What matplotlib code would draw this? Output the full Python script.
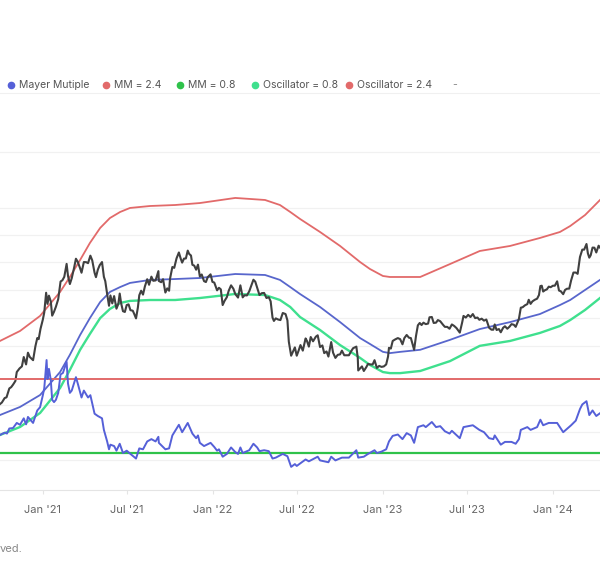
import matplotlib
matplotlib.use("Agg")
import matplotlib.pyplot as plt
from matplotlib.lines import Line2D
import matplotlib.ticker as mticker
import pandas as pd

# ---------------- data ----------------
price_dates = ["2020-10-01","2020-10-05","2020-10-11","2020-10-15","2020-10-21","2020-10-25","2020-10-29","2020-11-03","2020-11-06","2020-11-12","2020-11-17","2020-11-21","2020-11-26","2020-11-30","2020-12-04","2020-12-11","2020-12-16","2020-12-20","2020-12-23","2020-12-27",
"2021-01-01","2021-01-04","2021-01-08","2021-01-11","2021-01-14","2021-01-18","2021-01-21","2021-01-25","2021-01-29","2021-02-03","2021-02-08","2021-02-12","2021-02-16","2021-02-21","2021-02-24","2021-02-28","2021-03-04","2021-03-09","2021-03-13","2021-03-17","2021-03-22","2021-03-25","2021-03-30","2021-04-04","2021-04-08","2021-04-13","2021-04-17","2021-04-22","2021-04-25","2021-04-29","2021-05-03","2021-05-08","2021-05-12","2021-05-15","2021-05-19","2021-05-23","2021-05-26","2021-05-30","2021-06-03","2021-06-08","2021-06-12","2021-06-15","2021-06-18","2021-06-22","2021-06-26","2021-06-30","2021-07-04","2021-07-08","2021-07-13","2021-07-16","2021-07-20","2021-07-24","2021-07-27","2021-07-31","2021-08-04","2021-08-08","2021-08-13","2021-08-17","2021-08-22","2021-08-26","2021-08-31","2021-09-06","2021-09-07","2021-09-12","2021-09-16","2021-09-21","2021-09-25","2021-09-29","2021-10-01","2021-10-06","2021-10-10","2021-10-15","2021-10-20","2021-10-24","2021-10-27","2021-10-31","2021-11-04","2021-11-08","2021-11-11","2021-11-15","2021-11-18","2021-11-22","2021-11-26","2021-11-30","2021-12-04","2021-12-08","2021-12-13","2021-12-17","2021-12-21","2021-12-27","2021-12-31",
"2022-01-04","2022-01-10","2022-01-14","2022-01-18","2022-01-22","2022-01-26","2022-01-31","2022-02-04","2022-02-09","2022-02-14","2022-02-18","2022-02-24","2022-03-01","2022-03-06","2022-03-10","2022-03-15","2022-03-20","2022-03-24","2022-03-29","2022-04-02","2022-04-06","2022-04-11","2022-04-16","2022-04-21","2022-04-26","2022-05-01","2022-05-05","2022-05-09","2022-05-12","2022-05-16","2022-05-21","2022-05-26","2022-05-31","2022-06-06","2022-06-10","2022-06-13","2022-06-18","2022-06-22","2022-06-26","2022-06-30","2022-07-04","2022-07-08","2022-07-13","2022-07-19","2022-07-22","2022-07-26","2022-07-30","2022-08-04","2022-08-10","2022-08-14","2022-08-19","2022-08-24","2022-08-28","2022-09-02","2022-09-06","2022-09-12","2022-09-16","2022-09-21","2022-09-26","2022-10-01","2022-10-05","2022-10-10","2022-10-15","2022-10-20","2022-10-25","2022-10-29","2022-11-05","2022-11-08","2022-11-09","2022-11-13","2022-11-17","2022-11-21","2022-11-26","2022-11-30","2022-12-05","2022-12-10","2022-12-14","2022-12-19","2022-12-24","2022-12-29",
"2023-01-03","2023-01-08","2023-01-12","2023-01-14","2023-01-18","2023-01-22","2023-01-27","2023-02-02","2023-02-07","2023-02-12","2023-02-16","2023-02-21","2023-02-26","2023-03-02","2023-03-09","2023-03-13","2023-03-17","2023-03-21","2023-03-25","2023-03-29","2023-04-03","2023-04-08","2023-04-11","2023-04-16","2023-04-20","2023-04-25","2023-04-29","2023-05-04","2023-05-10","2023-05-14","2023-05-19","2023-05-24","2023-05-29","2023-06-03","2023-06-08","2023-06-15","2023-06-20","2023-06-23","2023-06-28","2023-07-03","2023-07-08","2023-07-13","2023-07-18","2023-07-23","2023-07-27","2023-08-01","2023-08-06","2023-08-11","2023-08-17","2023-08-22","2023-08-26","2023-08-29","2023-09-02","2023-09-07","2023-09-11","2023-09-16","2023-09-20","2023-09-25","2023-09-30","2023-10-04","2023-10-09","2023-10-13","2023-10-17","2023-10-20","2023-10-24","2023-10-28","2023-11-02","2023-11-07","2023-11-10","2023-11-14","2023-11-18","2023-11-23","2023-11-28","2023-12-02","2023-12-05","2023-12-08","2023-12-11","2023-12-15","2023-12-19","2023-12-23","2023-12-27",
"2024-01-01","2024-01-05","2024-01-10","2024-01-14","2024-01-18","2024-01-23","2024-01-27","2024-01-31","2024-02-05","2024-02-09","2024-02-14","2024-02-19","2024-02-23","2024-02-28","2024-03-04","2024-03-08","2024-03-13","2024-03-16","2024-03-19","2024-03-22","2024-03-26","2024-03-30","2024-04-03","2024-04-08","2024-04-11"]
price_values = [10.6,10.8,11.4,11.5,12.8,13.0,13.4,14.0,15.6,16.3,16.7,18.7,17.1,19.7,18.7,18.0,21.3,23.5,23.2,26.3,
29.4,32.0,40.6,35.5,39.2,36.6,30.8,32.3,34.3,37.6,46.5,47.2,49.2,57.5,49.7,45.1,48.4,54.8,61.2,58.9,54.5,51.7,58.8,58.7,58.0,63.5,60.0,51.7,49.0,53.6,56.6,58.8,49.2,46.7,40.0,34.7,39.3,35.7,39.0,33.5,35.5,40.2,35.8,32.5,32.2,35.0,35.3,32.9,32.7,31.5,29.8,34.0,39.4,41.6,39.7,43.8,47.8,44.7,49.3,46.9,47.1,52.7,46.8,46.1,47.8,40.7,42.8,41.6,48.1,55.4,54.8,61.5,66.0,61.2,58.4,61.3,61.4,67.5,64.9,63.6,56.9,56.3,53.6,57.0,49.4,50.6,46.7,46.2,49.0,50.7,46.3,
45.9,41.8,43.1,42.3,35.0,36.8,38.5,41.6,44.4,42.6,40.0,38.3,44.4,38.4,39.4,39.3,41.3,44.0,47.5,46.4,43.2,39.5,40.4,40.5,38.1,38.5,36.6,30.1,28.9,29.8,29.4,29.2,31.8,31.4,29.1,22.5,19.0,20.0,21.0,19.0,20.2,21.6,20.2,23.4,22.7,21.2,23.8,22.6,23.9,24.3,21.1,21.5,19.6,20.0,18.8,22.4,19.7,18.5,19.2,19.3,20.2,19.1,19.1,19.1,20.1,20.8,21.2,18.5,15.9,16.3,16.7,15.8,16.5,17.2,17.1,17.1,18.0,16.4,16.8,16.6,
16.7,17.1,18.8,20.9,20.7,22.7,23.1,23.5,23.2,21.8,23.5,24.4,23.6,23.5,20.4,24.1,27.4,28.2,27.5,28.3,27.8,28.0,30.2,30.3,28.2,28.3,29.2,28.8,27.6,26.9,26.9,26.3,27.7,27.2,26.5,25.1,28.3,30.7,30.1,31.1,30.3,31.4,29.9,30.1,29.3,29.7,29.0,29.4,26.6,26.0,26.0,27.7,25.9,26.2,25.2,26.6,27.1,26.3,27.0,27.8,27.6,26.9,28.4,29.7,33.9,34.1,34.9,35.4,37.3,35.5,36.6,37.3,37.8,39.5,44.0,44.2,41.2,41.9,42.3,43.7,43.4,
44.2,44.2,46.6,41.7,41.3,39.9,42.0,42.6,42.7,47.1,51.8,51.8,51.0,62.5,68.3,68.3,73.1,65.3,62.0,63.8,70.0,69.9,66.0,71.6,70.0]

band_dates = ["2020-10-01","2020-11-13","2020-12-26","2021-02-07","2021-02-28","2021-03-22","2021-04-12","2021-05-04","2021-05-25","2021-06-16","2021-07-07","2021-08-19","2021-10-12","2021-12-04","2022-02-18","2022-04-23","2022-05-25","2022-06-16","2022-07-07","2022-08-19","2022-10-01","2022-11-13","2022-12-04","2023-01-01","2023-01-16","2023-02-07","2023-03-22","2023-05-25","2023-07-28","2023-10-01","2023-12-04","2024-01-16","2024-02-07","2024-03-10","2024-04-11"]
band_high = [22.7,25.6,30.7,41.0,49.1,60.3,74.0,88.7,100.0,107.6,112.9,115.6,117.0,119.8,127.4,124.3,117.0,107.6,98.9,84.5,71.4,58.8,54.1,49.7,49.1,49.1,49.1,57.4,67.2,71.4,78.6,84.5,90.8,103.7,124.3]
moving_avg = [9.29,10.24,11.82,15.61,19.2,24.4,29.9,36.3,41.0,43.5,45.7,47.4,47.9,48.5,50.9,50.3,47.4,43.5,40.0,34.2,28.5,23.5,21.9,19.9,19.6,19.9,20.4,23.0,26.2,28.5,31.4,35.0,37.2,42.0,47.4]
band_low = [7.30,8.04,9.52,12.87,16.0,20.4,24.7,29.9,33.4,35.9,36.8,37.2,37.2,38.1,40.0,39.5,37.2,34.2,30.3,25.9,21.6,18.5,17.0,15.6,15.4,15.4,15.8,17.8,21.4,22.7,25.0,27.2,29.2,33.0,38.1]

mm_dates = ["2020-10-01","2020-10-11","2020-10-16","2020-10-21","2020-10-29","2020-11-06","2020-11-13","2020-11-21","2020-11-26","2020-11-30","2020-12-11","2020-12-20","2020-12-26",
"2021-01-01","2021-01-04","2021-01-09","2021-01-11","2021-01-14","2021-01-18","2021-01-21","2021-01-25","2021-01-29","2021-02-03","2021-02-08","2021-02-13","2021-02-21","2021-02-24","2021-02-28","2021-03-04","2021-03-13","2021-03-17","2021-03-25","2021-03-30","2021-04-08","2021-04-13","2021-04-22","2021-04-29","2021-05-08","2021-05-12","2021-05-19","2021-05-23","2021-05-26","2021-06-03","2021-06-08","2021-06-15","2021-06-22","2021-06-30","2021-07-08","2021-07-20","2021-07-27","2021-08-04","2021-08-13","2021-08-22","2021-08-31","2021-09-06","2021-09-07","2021-09-21","2021-09-29","2021-10-06","2021-10-20","2021-10-27","2021-11-08","2021-11-18","2021-11-26","2021-11-30","2021-12-04","2021-12-13","2021-12-27",
"2022-01-04","2022-01-10","2022-01-14","2022-01-22","2022-01-31","2022-02-09","2022-02-18","2022-02-24","2022-03-01","2022-03-06","2022-03-20","2022-03-29","2022-04-06","2022-04-11","2022-04-21","2022-05-01","2022-05-09","2022-05-16","2022-05-31","2022-06-10","2022-06-18","2022-06-26","2022-06-30","2022-07-08","2022-07-19","2022-07-26","2022-08-14","2022-08-19","2022-08-28","2022-09-06","2022-09-12","2022-09-21","2022-10-05","2022-10-20","2022-11-05","2022-11-09","2022-11-21","2022-11-30","2022-12-14","2022-12-19","2022-12-29",
"2023-01-08","2023-01-14","2023-01-22","2023-02-02","2023-02-12","2023-02-21","2023-03-02","2023-03-09","2023-03-17","2023-03-29","2023-04-03","2023-04-16","2023-04-25","2023-05-04","2023-05-14","2023-05-24","2023-05-29","2023-06-15","2023-06-23","2023-07-03","2023-07-13","2023-07-27","2023-08-06","2023-08-17","2023-08-26","2023-08-29","2023-09-11","2023-09-20","2023-10-04","2023-10-13","2023-10-20","2023-10-24","2023-11-07","2023-11-14","2023-11-28","2023-12-05","2023-12-11","2023-12-23",
"2024-01-10","2024-01-23","2024-01-31","2024-02-09","2024-02-19","2024-02-28","2024-03-04","2024-03-13","2024-03-19","2024-03-26","2024-04-03","2024-04-11"]
mm_values = [1.19,1.24,1.22,1.33,1.34,1.45,1.41,1.55,1.42,1.58,1.45,1.72,1.79,
2.05,2.20,2.81,2.40,2.62,2.38,1.95,1.90,1.95,2.10,2.50,2.53,2.77,2.30,2.10,2.15,2.44,2.30,2.00,2.15,2.00,2.05,1.65,1.60,1.55,1.30,1.05,0.88,0.98,0.95,0.85,1.00,0.80,0.85,0.78,0.68,0.90,0.88,1.05,1.10,1.05,1.15,1.02,0.88,0.90,1.18,1.41,1.25,1.45,1.22,1.12,1.18,1.02,0.95,1.02,
0.93,0.85,0.88,0.72,0.78,0.92,0.82,0.78,0.92,0.80,0.86,1.00,0.92,0.84,0.86,0.84,0.68,0.70,0.78,0.73,0.50,0.56,0.52,0.58,0.66,0.62,0.72,0.64,0.62,0.60,0.72,0.64,0.70,0.70,0.86,0.70,0.72,0.78,0.86,0.80,0.83,
0.88,1.05,1.17,1.20,1.10,1.23,1.18,1.02,1.36,1.40,1.36,1.47,1.36,1.38,1.27,1.22,1.28,1.12,1.36,1.38,1.40,1.30,1.25,1.12,1.10,1.18,0.98,1.04,1.04,1.00,1.10,1.30,1.36,1.30,1.36,1.52,1.40,1.45,
1.45,1.25,1.32,1.40,1.50,1.75,1.85,1.92,1.62,1.72,1.60,1.66]

mm_high_level = 2.4
mm_low_level = 0.8
grid_levels = [222, 112.9, 81.5, 58.8, 42.0, 29.9, 21.4, 10.5, 7.57, 5.40]

tick_dates = ["2021-01-01","2021-07-01","2022-01-01","2022-07-01","2023-01-01","2023-07-01","2024-01-01"]
tick_labels = ["Jan '21","Jul '21","Jan '22","Jul '22","Jan '23","Jul '23","Jan '24"]

legend_labels = ["Mayer Mutiple", "MM = 2.4", "MM = 0.8", "Oscillator = 0.8", "Oscillator = 2.4"]

# ---------------- styling ----------------
C_PRICE = "#404040"
C_MA = "#5866cc"
C_OSC = "#5560d8"
C_RED = "#e26a6a"
C_SPRING = "#3fe08e"
C_GREEN = "#2fc24a"
legend_colors = [C_OSC, C_RED, C_GREEN, C_SPRING, C_RED]

plt.rcParams["font.family"] = ["Inter", "DejaVu Sans"]

fig = plt.figure(figsize=(6, 5.76), dpi=100)
fig.patch.set_facecolor("white")
ax = fig.add_axes([0, 86 / 576, 1, 397 / 576])
ax.set_yscale("log")
ax.set_ylim(3.76, 451.8)
ax.set_xlim(pd.Timestamp("2020-10-01"), pd.Timestamp("2024-04-11"))

for g in grid_levels:
    ax.axhline(g, color="#f1f1f1", lw=0.9, zorder=0)

bd = pd.to_datetime(band_dates)
ax.plot(bd, band_high, color=C_RED, lw=1.3, zorder=2)
ax.plot(bd, moving_avg, color=C_MA, lw=1.3, zorder=2)
ax.plot(bd, band_low, color=C_SPRING, lw=1.7, zorder=2)
ax.plot(pd.to_datetime(price_dates), price_values, color=C_PRICE, lw=1.5, zorder=3)

for s in ["left", "right"]:
    ax.spines[s].set_visible(False)
ax.spines["bottom"].set_color("#e4e4e4")
ax.spines["top"].set_color("#f0f0f0")
ax.set_yticks([])
ax.yaxis.set_minor_locator(mticker.NullLocator())
ax.set_xticks(pd.to_datetime(tick_dates))
ax.set_xticklabels(tick_labels)
ax.tick_params(axis="x", length=3, width=0.8, color="#e4e4e4", pad=8,
               labelsize=8, labelcolor="#666666")

ax2 = ax.twinx()
ax2.set_ylim(0, 8.584)
ax2.axhline(mm_high_level, color=C_RED, lw=1.4, zorder=1)
ax2.axhline(mm_low_level, color=C_GREEN, lw=1.6, zorder=1)
ax2.plot(pd.to_datetime(mm_dates), mm_values, color=C_OSC, lw=1.4, zorder=3)
ax2.set_yticks([])
for s in ax2.spines.values():
    s.set_visible(False)

# legend
leg_x = [11, 106, 180, 255, 349]
leg_y = 1 - 85 / 576
for xp, lab, col in zip(leg_x, legend_labels, legend_colors):
    fig.add_artist(Line2D([xp / 600], [leg_y], marker="o", markersize=4.5,
                          color=col, transform=fig.transFigure, linestyle="none"))
    fig.text((xp + 8) / 600, leg_y, lab, fontsize=7.5, color="#555555",
             va="center", ha="left")
fig.text(455 / 600, leg_y, "-", fontsize=7.5, color="#888888", va="center", ha="center")

fig.text(0, 1 - 549 / 576, "ved.", fontsize=8, color="#888888", va="center", ha="left")

fig.savefig("out.png", dpi=100, facecolor="white")
